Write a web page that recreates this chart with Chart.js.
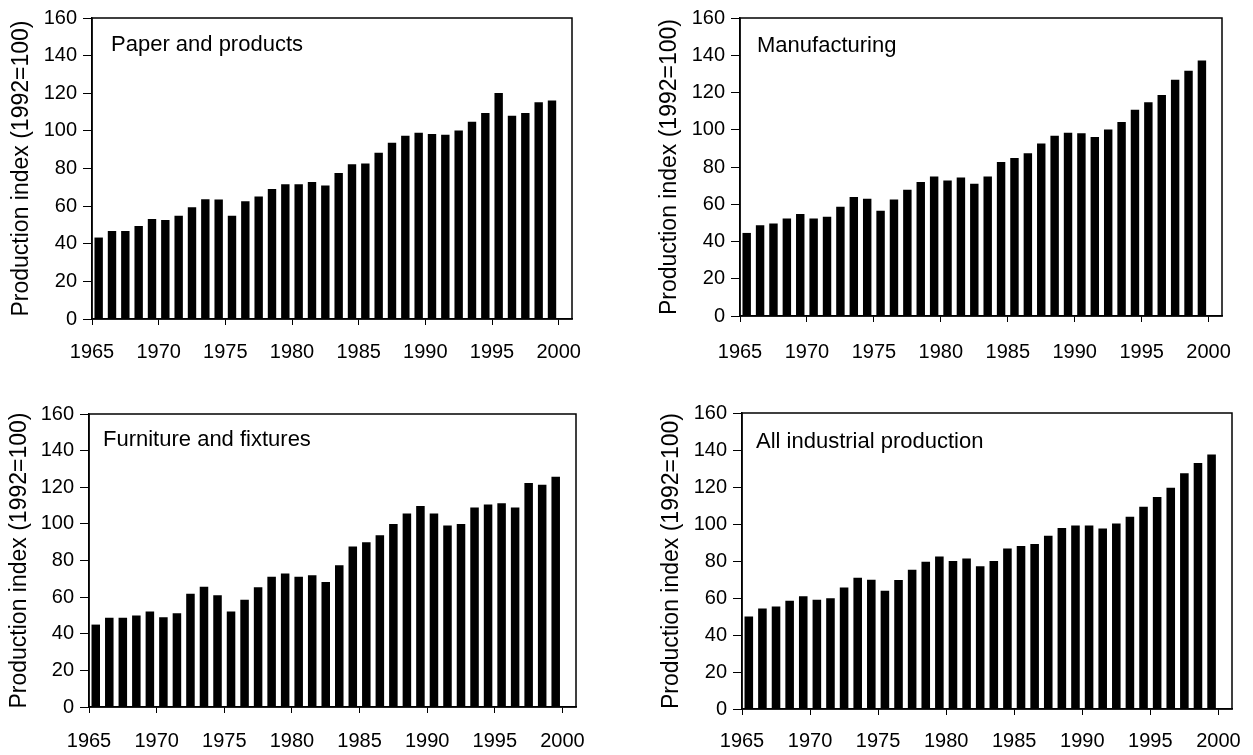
<!DOCTYPE html>
<html>
<head>
<meta charset="utf-8">
<script src="https://cdn.jsdelivr.net/npm/chart.js@4/dist/chart.umd.min.js"></script>
<style>
  body { margin: 0; background: #fff; }
  #wrap { position: relative; width: 1253px; height: 755px; overflow: hidden; }
  canvas { position: absolute; }
</style>
</head>
<body>
<div id="wrap">
  <canvas id="paperChart"></canvas>
  <canvas id="manufChart"></canvas>
  <canvas id="furnChart"></canvas>
  <canvas id="allChart"></canvas>
</div>
<script>
// years on the x axis (one bar per year)
const years = [1965, 1966, 1967, 1968, 1969, 1970, 1971, 1972, 1973, 1974,
               1975, 1976, 1977, 1978, 1979, 1980, 1981, 1982, 1983, 1984,
               1985, 1986, 1987, 1988, 1989, 1990, 1991, 1992, 1993, 1994,
               1995, 1996, 1997, 1998, 1999];
const x_ticks = [1965, 1970, 1975, 1980, 1985, 1990, 1995, 2000];
const y_ticks = [0, 20, 40, 60, 80, 100, 120, 140, 160];
const y_title = 'Production index (1992=100)';

// production index, 1992=100
const paper = [43.3, 46.8, 46.8, 49.4, 53.1, 52.6, 54.9, 59.4, 63.6, 63.5,
               54.9, 62.6, 65.1, 69.1, 71.6, 71.6, 72.8, 71.0, 77.6, 82.3,
               82.6, 88.4, 93.7, 97.4, 99.0, 98.3, 97.9, 100.2, 104.8, 109.5,
               120.1, 108.0, 109.5, 115.2, 116.2];
const manufacturing = [44.6, 48.7, 49.7, 52.4, 54.7, 52.4, 53.3, 58.6, 63.9, 63.0,
                       56.5, 62.5, 67.8, 72.0, 74.9, 72.7, 74.3, 71.0, 74.9, 82.7,
                       84.8, 87.4, 92.6, 96.8, 98.4, 98.1, 96.1, 100.2, 104.1, 110.8,
                       114.7, 118.6, 126.9, 131.7, 137.2];
const furniture = [45.0, 48.7, 48.7, 49.9, 52.1, 49.0, 51.2, 61.8, 65.6, 61.0,
                   52.1, 58.5, 65.4, 71.1, 72.9, 71.1, 72.0, 68.2, 77.4, 87.7,
                   90.0, 93.8, 99.9, 105.7, 109.7, 105.7, 99.1, 99.9, 109.0, 110.6,
                   111.3, 109.0, 122.3, 121.4, 125.7];
const all_industry = [50.0, 54.3, 55.4, 58.5, 61.0, 59.0, 59.9, 65.7, 70.9, 69.9,
                      63.9, 69.7, 75.3, 79.6, 82.5, 80.0, 81.3, 77.2, 80.0, 86.7,
                      88.1, 89.2, 93.6, 97.9, 99.2, 99.2, 97.6, 100.3, 103.9, 109.3,
                      114.6, 119.6, 127.4, 133.0, 137.6];

const FONT = '"Liberation Sans", Arial, sans-serif';
Chart.defaults.font.family = FONT;
Chart.defaults.color = '#000';

// plot box + panel name inside the plot
const boxPlugin = {
    id: 'box',
    afterDraw(chart, args, opts) {
        const a = chart.chartArea;
        const ctx = chart.ctx;
        ctx.save();
        ctx.strokeStyle = '#000';
        ctx.lineWidth = 1.5;
        ctx.strokeRect(a.left, a.top, a.right - a.left, a.bottom - a.top);
        ctx.fillStyle = '#000';
        ctx.font = '22px ' + FONT;
        ctx.textBaseline = 'middle';
        ctx.fillText(opts.text, a.left + opts.dx, a.top + opts.dy);
        ctx.restore();
    }
};

function draw_panel(id, name, values, box){
    const el = document.getElementById(id);
    el.width = box.w;
    el.height = box.h;
    el.style.left = box.x + 'px';
    el.style.top = box.y + 'px';
    const ctx = el.getContext('2d');
    var points = [];
    years.forEach(function(yr, i){
        // bars sit between the year ticks
        points.push({x: yr + 0.5, y: values[i]});
    });

    const chart = new Chart(ctx, {
        type: 'bar',
        data: {
            datasets: [{
                label: name,
                data: points,
                backgroundColor: '#000',
                borderWidth: 0,
                barPercentage: 0.63,
                categoryPercentage: 1
            }]
        },
        plugins: [boxPlugin],
        options: {
            responsive: false,
            animation: false,
            layout: {
                padding: {left: 0, top: box.top - box.y, right: box.x + box.w - box.right, bottom: 0}
            },
            plugins: {
                legend: {display: false},
                tooltip: {enabled: false},
                box: {text: name, dx: box.dx, dy: box.dy}
            },
            scales: {
                x: {
                    type: 'linear',
                    offset: false,
                    min: 1965,
                    max: 2001,
                    afterBuildTicks: function(scale){
                        scale.ticks = x_ticks.map(function(v){ return {value: v}; });
                    },
                    afterFit: function(scale){
                        scale.height = box.y + box.h - box.bottom;
                        scale.paddingLeft = 0;
                        scale.paddingRight = 0;
                    },
                    ticks: {
                        font: {size: 20},
                        padding: box.xpad,
                        maxRotation: 0,
                        autoSkip: false,
                        callback: function(v){ return String(v); }
                    },
                    grid: {display: true, offset: false, drawOnChartArea: false, tickLength: 6, color: '#000', lineWidth: 1},
                    border: {color: '#000', width: 1.5}
                },
                y: {
                    min: 0,
                    max: 160,
                    afterBuildTicks: function(scale){
                        scale.ticks = y_ticks.map(function(v){ return {value: v}; });
                    },
                    afterFit: function(scale){
                        scale.width = box.left - box.x;
                    },
                    ticks: {font: {size: 20}, padding: 6},
                    grid: {display: true, drawOnChartArea: false, tickLength: 9, color: '#000', lineWidth: 1},
                    border: {color: '#000', width: 1.5},
                    title: {
                        display: true,
                        text: y_title,
                        font: {size: 23},
                        padding: {top: box.tpad, bottom: 0}
                    }
                }
            }
        }
    });
    return chart;
}

draw_panel('paperChart', 'Paper and products', paper,
    {x: 0, y: 0, w: 620, h: 377, left: 92, top: 16, right: 572, bottom: 319, xpad: 15, tpad: 8.2, dx: 19, dy: 27});
draw_panel('manufChart', 'Manufacturing', manufacturing,
    {x: 648, y: 0, w: 605, h: 377, left: 740, top: 15, right: 1222, bottom: 316, xpad: 18, tpad: 8.2, dx: 17, dy: 28});
draw_panel('furnChart', 'Furniture and fixtures', furniture,
    {x: 0, y: 378, w: 620, h: 377, left: 89, top: 414, right: 576, bottom: 707, xpad: 16, tpad: 6.2, dx: 14, dy: 26});
draw_panel('allChart', 'All industrial production', all_industry,
    {x: 650, y: 378, w: 603, h: 377, left: 742, top: 413, right: 1232, bottom: 709, xpad: 14, tpad: 8.2, dx: 14, dy: 29});
</script>
</body>
</html>
